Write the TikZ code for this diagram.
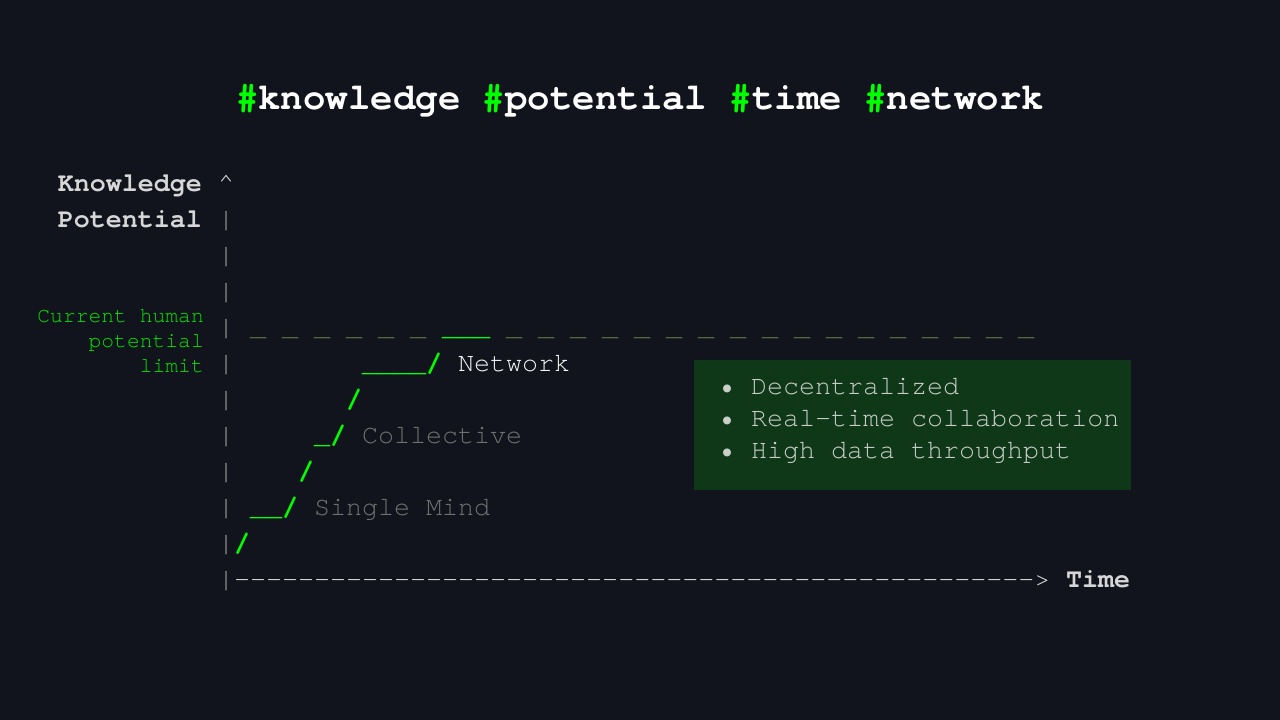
\documentclass[tikz,border=0pt]{standalone}
\usepackage{fontspec}
\setmonofont{TeX Gyre Cursor}

\definecolor{bgnavy}{HTML}{11141C}
\definecolor{glowgreen}{HTML}{3C4C36}
\definecolor{hashgreen}{HTML}{00FF00}
\definecolor{limitgreen}{HTML}{00E600}
\definecolor{axisgray}{HTML}{A4A4A4}
\definecolor{labelgray}{HTML}{D6D6D6}
\definecolor{stepgray}{HTML}{727272}
\definecolor{netwhite}{HTML}{F4F4F4}
\definecolor{limitdash}{HTML}{52663F}
\definecolor{boxgreen}{HTML}{0F3818}
\definecolor{boxtext}{HTML}{CACFCA}

% column and row of the ascii grid (16pt cells, 36pt rows)
\newcommand{\colx}[1]{218+16*#1}
\newcommand{\rowy}[1]{191+36*#1}

\begin{document}
\begin{tikzpicture}[x=1pt,y=-1pt,
  ascii/.style={anchor=base west, inner sep=0pt, font=\ttfamily\fontsize{26.67}{36}\selectfont},
  stepchar/.style={ascii, font=\ttfamily\bfseries\fontsize{26.67}{36}\selectfont, text=hashgreen},
  steplabel/.style={ascii, text=stepgray},
  axislabel/.style={ascii, font=\ttfamily\bfseries\fontsize{26.67}{36}\selectfont, text=labelgray},
  limitlabel/.style={anchor=base east, inner sep=0pt, font=\ttfamily\fontsize{21.33}{25}\selectfont, text=limitgreen},
  traittext/.style={ascii, text=boxtext}]

\useasboundingbox (0,0) rectangle (1280,720);
\fill[bgnavy] (0,0) rectangle (1280,720);

% soft glows
\foreach \r in {5,10,...,160}
  \fill[glowgreen, opacity=0.014] (135,215) circle (\r);
\foreach \r in {5,10,...,130}
  \fill[glowgreen, opacity=0.007] (1100,580) circle (\r);
\foreach \r in {5,10,...,170}
  \fill[glowgreen, opacity=0.006] (330,560) circle (\r);

% title
\node[anchor=base, inner sep=0pt, font=\ttfamily\bfseries\fontsize{37.4}{44}\selectfont, text=white] (title) at (640,109)
  {\textcolor{hashgreen}{\#}knowledge \textcolor{hashgreen}{\#}potential \textcolor{hashgreen}{\#}time \textcolor{hashgreen}{\#}network};

% vertical axis
\node[axislabel, anchor=base east] (knowledge) at (202,{\rowy{0}}) {Knowledge};
\node[axislabel, anchor=base east] (potential) at (202,{\rowy{1}}) {Potential};
\node[ascii, text=labelgray!85] (tip) at ({\colx{0}},{\rowy{0}}) {\textasciicircum};
\foreach \r in {1,...,11}
  \node[ascii, text=axisgray] (bar\r) at ({\colx{0}},{\rowy{\r}}) {|};

% limit line
\node[limitlabel] (current) at (204,322) {Current human};
\node[limitlabel] (potlimit) at (204,347) {potential};
\node[limitlabel] (limit) at (204,372) {limit};
\foreach \c in {2,4,...,12,18,20,...,50}
  \node[ascii, text=limitdash] (dash\c) at ({\colx{\c}},{\rowy{4}}) {\_};

% staircase
\node[stepchar] (s1) at ({\colx{1}},{\rowy{10}}) {/};
\node[stepchar] (s2) at ({\colx{2}},{\rowy{9}}) {\_\_/};
\node[steplabel] (single) at ({\colx{6}},{\rowy{9}}) {Single Mind};
\node[stepchar] (s3) at ({\colx{5}},{\rowy{8}}) {/};
\node[stepchar] (s4) at ({\colx{6}},{\rowy{7}}) {\_/};
\node[steplabel] (collective) at ({\colx{9}},{\rowy{7}}) {Collective};
\node[stepchar] (s5) at ({\colx{8}},{\rowy{6}}) {/};
\node[stepchar] (s6) at ({\colx{9}},{\rowy{5}}) {\_\_\_\_/};
\node[ascii, text=netwhite] (network) at ({\colx{15}},{\rowy{5}}) {Network};
\node[stepchar] (s7) at ({\colx{14}},{\rowy{4}}) {\_\_\_};

% horizontal axis
\node[ascii, text=labelgray] (timeaxis) at ({\colx{1}},{\rowy{11}}) {\foreach \i in {1,...,50}{-}>};
\node[axislabel] (time) at ({\colx{53}},{\rowy{11}}) {Time};

% network traits
\node[fill=boxgreen, inner sep=0pt, minimum width=437, minimum height=130, anchor=north west] (traits) at (694,360) {};
\node[traittext] (t1) at (719,394) {• Decentralized};
\node[traittext] (t2) at (719,426) {• Real-time collaboration};
\node[traittext] (t3) at (719,458) {• High data throughput};

\end{tikzpicture}
\end{document}
